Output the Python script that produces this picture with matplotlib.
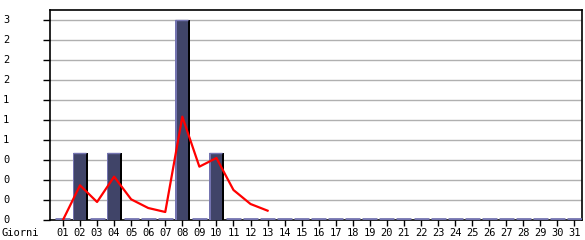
import numpy as np
import matplotlib
matplotlib.use("Agg")
import matplotlib.pyplot as plt
import matplotlib.transforms as mtransforms

# Data
days = [f"{d:02d}" for d in range(1, 32)]
visits = [0, 1, 0, 1, 0, 0, 0, 3, 0, 1, 0, 0, 0] + [0] * 18
trend = [0, 0.52, 0.27, 0.65, 0.31, 0.18, 0.12, 1.55, 0.80, 0.93, 0.45, 0.24, 0.14]
yticks = [0, 0.3, 0.6, 0.9, 1.2, 1.5, 1.8, 2.1, 2.4, 2.7, 3.0]
ylabels = [str(int(v + 1e-9)) for v in yticks]

W, H = 585, 240
fig = plt.figure(figsize=(W / 100, H / 100), dpi=100)
ax = fig.add_axes([50 / W, 20 / H, 532 / W, 210 / H])

x = np.arange(1, len(days) + 1)
vals = np.array(visits, dtype=float)
bw = 0.88
edge = 0.1

# grid
for v in yticks[1:]:
    ax.axhline(v, color="#b0b0b0", linewidth=1, zorder=1)

# bars with lighter left/top edge and black shadow on the right
nz = vals > 0
ax.bar(x[nz], vals[nz], width=bw, color="#404468", zorder=3)
ax.bar(x[nz] - bw / 2 + edge / 2, vals[nz], width=edge, color="#7474b0", zorder=4)
ax.bar(x[nz] + bw / 2 - edge / 2, vals[nz], width=edge, color="#000000", zorder=4)
ax.hlines(vals[nz], x[nz] - bw / 2, x[nz] + bw / 2 - edge, color="#7474b0",
          linewidth=1, zorder=4)
# empty days drawn as flat bars on the baseline
ax.hlines(np.zeros((~nz).sum()) + 0.02, x[~nz] - bw / 2, x[~nz] + bw / 2,
          color="#7474b0", linewidth=2, zorder=4)

# trend line
ax.plot(np.arange(1, len(trend) + 1), trend, color="#ff0000", linewidth=1.6, zorder=5)

ax.set_xlim(0.24, 31.44)
ax.set_ylim(0, 3.15)

for s in ax.spines.values():
    s.set_color("black")
    s.set_linewidth(1.2)

font = dict(family="DejaVu Sans Mono", size=7.5, color="black")
ax.set_xticks(x)
ax.set_xticklabels(days, **font)
ax.tick_params(axis="x", length=4, width=1, pad=2, direction="out")
ax.set_yticks(yticks)
ax.set_yticklabels([])
ax.tick_params(axis="y", length=5, width=1, direction="out")

trans = mtransforms.blended_transform_factory(fig.transFigure, ax.transData)
for v, lab in zip(yticks, ylabels):
    ax.text(3 / W, v, lab, transform=trans, ha="left", va="center", **font)

fig.text(2 / W, 1 - 233 / H, "Giorni", ha="left", va="center", **font)

fig.savefig("out.png", dpi=100)
